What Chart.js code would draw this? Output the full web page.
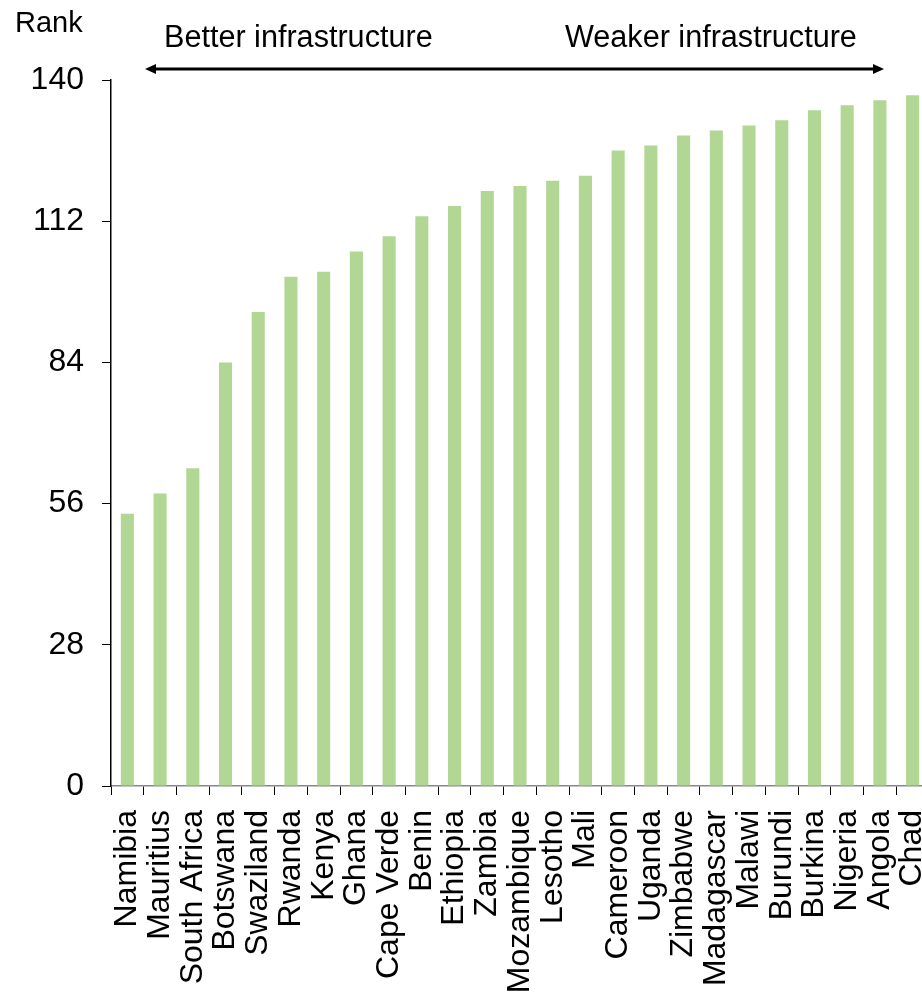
<!DOCTYPE html>
<html>
<head>
<meta charset="utf-8">
<script src="https://cdn.jsdelivr.net/npm/chart.js@4"></script>
<style>
    html, body { margin: 0; padding: 0; background: #fff; overflow: hidden; }
    #wrap { width: 929px; height: 993px; position: relative; }
</style>
</head>
<body>
<div id="wrap"><canvas id="rankChart"></canvas></div>
<script>
// Infrastructure rank by country (lower rank = better)
const countries = ['Namibia', 'Mauritius', 'South Africa', 'Botswana', 'Swaziland', 'Rwanda', 'Kenya',
    'Ghana', 'Cape Verde', 'Benin', 'Ethiopia', 'Zambia', 'Mozambique', 'Lesotho', 'Mali', 'Cameroon',
    'Uganda', 'Zimbabwe', 'Madagascar', 'Malawi', 'Burundi', 'Burkina', 'Nigeria', 'Angola', 'Chad'];
const ranks = [54, 58, 63, 84, 94, 101, 102, 106, 109, 113, 115, 118, 119, 120, 121, 126,
    127, 129, 130, 131, 132, 134, 135, 136, 137];
const rankTicks = [0, 28, 56, 84, 112, 140];

const FONT = 'Arial, "Liberation Sans", sans-serif';

// Header texts and the double arrow above the plot
const headerPlugin = {
    id: 'header',
    afterDraw(chart) {
        const ctx = chart.ctx;
        ctx.save();
        ctx.fillStyle = '#000';
        ctx.textBaseline = 'alphabetic';
        ctx.textAlign = 'left';
        ctx.font = '29px ' + FONT;
        ctx.fillText('Rank', 15, 32);
        ctx.font = '30.6px ' + FONT;
        ctx.fillText('Better infrastructure', 164, 47);
        ctx.fillText('Weaker infrastructure', 565, 47);

        // arrow
        const y = 69, x1 = 145, x2 = 884;
        ctx.strokeStyle = '#000';
        ctx.lineWidth = 3;
        ctx.beginPath();
        ctx.moveTo(x1 + 8, y);
        ctx.lineTo(x2 - 8, y);
        ctx.stroke();
        ctx.beginPath();
        ctx.moveTo(x1, y);
        ctx.lineTo(x1 + 11, y - 5);
        ctx.lineTo(x1 + 11, y + 5);
        ctx.closePath();
        ctx.fill();
        ctx.beginPath();
        ctx.moveTo(x2, y);
        ctx.lineTo(x2 - 11, y - 5);
        ctx.lineTo(x2 - 11, y + 5);
        ctx.closePath();
        ctx.fill();
        ctx.restore();
    }
};

new Chart(document.getElementById('rankChart'), {
    type: 'bar',
    data: {
        labels: countries,
        datasets: [{
            label: 'Rank',
            data: ranks,
            backgroundColor: '#b2d794',
            borderWidth: 0,
            barPercentage: 0.4,
            categoryPercentage: 1
        }]
    },
    options: {
        responsive: true,
        maintainAspectRatio: false,
        animation: false,
        layout: { padding: { top: 80, left: 0, right: 0, bottom: 0 } },
        plugins: {
            legend: { display: false },
            tooltip: { enabled: false }
        },
        scales: {
            x: {
                offset: true,
                grid: {
                    display: true,
                    drawOnChartArea: false,
                    offset: true,
                    tickLength: 9,
                    color: '#000'
                },
                border: { color: '#888', width: 1.5 },
                ticks: {
                    autoSkip: false,
                    maxRotation: 90,
                    minRotation: 90,
                    padding: 15,
                    color: '#000',
                    font: { family: FONT, size: 32 }
                },
                afterFit(scale) {
                    scale.height = 207;
                    scale.paddingLeft = 0;
                    scale.paddingRight = 0;
                }
            },
            y: {
                min: 0,
                max: 140,
                afterBuildTicks(scale) {
                    scale.ticks = rankTicks.map(v => ({ value: v }));
                },
                grid: {
                    display: true,
                    drawOnChartArea: false,
                    tickLength: 9,
                    color: '#000'
                },
                border: { color: '#000', width: 1.5 },
                ticks: {
                    padding: 18,
                    color: '#000',
                    font: { family: FONT, size: 32 }
                },
                afterFit(scale) {
                    scale.width = 111;
                    scale.paddingTop = 0;
                    scale.paddingBottom = 0;
                }
            }
        }
    },
    plugins: [headerPlugin]
});
</script>
</body>
</html>
